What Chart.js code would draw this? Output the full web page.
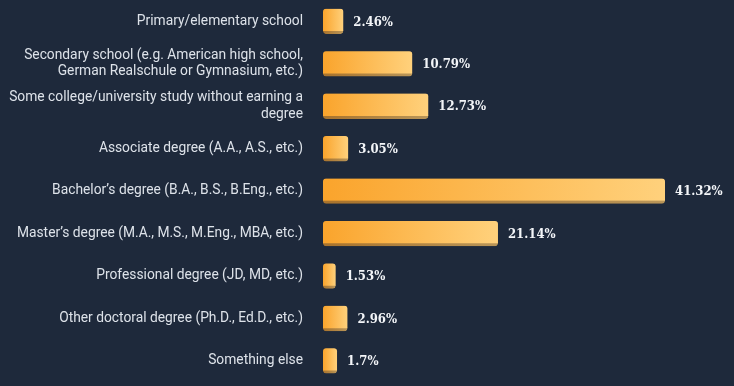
<!DOCTYPE html>
<html>
<head>
<meta charset="utf-8">
<script src="https://cdn.jsdelivr.net/npm/chart.js@4/dist/chart.umd.min.js"></script>
<style>
  html, body { margin: 0; padding: 0; background: #1e293b; }
  #wrap { width: 734px; height: 386px; }
</style>
</head>
<body>
<div id="wrap"><canvas id="eduChart"></canvas></div>
<script>
// categorias (multi-linea donde hace falta)
const categorias = [
  "Primary/elementary school",
  ["Secondary school (e.g. American high school,", "German Realschule or Gymnasium, etc.)"],
  ["Some college/university study without earning a", "degree"],
  "Associate degree (A.A., A.S., etc.)",
  "Bachelor\u2019s degree (B.A., B.S., B.Eng., etc.)",
  "Master\u2019s degree (M.A., M.S., M.Eng., MBA, etc.)",
  "Professional degree (JD, MD, etc.)",
  "Other doctoral degree (Ph.D., Ed.D., etc.)",
  "Something else"
];
const porcentajes = [2.46, 10.79, 12.73, 3.05, 41.32, 21.14, 1.53, 2.96, 1.7];

// gradiente por barra, de naranja a amarillo claro
function makeGradient(context, c0, c1, fallback) {
  const chart = context.chart;
  const x = chart.scales.x;
  if (!chart.chartArea || !x) return fallback;
  const v = context.parsed ? context.parsed.x : porcentajes[context.dataIndex];
  const x0 = x.getPixelForValue(0);
  const x1 = Math.max(x.getPixelForValue(v), x0 + 1);
  const g = chart.ctx.createLinearGradient(x0, 0, x1, 0);
  g.addColorStop(0, c0);
  g.addColorStop(1, c1);
  return g;
}

// etiquetas de valor al final de cada barra
const valueLabels = {
  id: "valueLabels",
  afterDatasetsDraw(chart) {
    const ctx = chart.ctx;
    const meta = chart.getDatasetMeta(0);
    ctx.save();
    ctx.font = "bold 13px 'DejaVu Serif Condensed', 'DejaVu Serif', serif";
    ctx.fillStyle = "#f3f5f8";
    ctx.textAlign = "left";
    ctx.textBaseline = "middle";
    meta.data.forEach((bar, i) => {
      ctx.fillText(porcentajes[i] + "%", bar.x + 10, bar.y + 1);
    });
    ctx.restore();
  }
};

new Chart(document.getElementById("eduChart"), {
  type: "bar",
  data: {
    labels: categorias,
    datasets: [{
      data: porcentajes,
      backgroundColor: (c) => makeGradient(c, "#faa42c", "#ffd17c", "#fbb040"),
      borderColor: (c) => makeGradient(c, "#a9732c", "#b99558", "#a8772f"),
      borderWidth: { top: 0, left: 0, right: 0, bottom: 3 },
      borderSkipped: false,
      borderRadius: 3,
      barThickness: 25
    }]
  },
  options: {
    indexAxis: "y",
    responsive: true,
    maintainAspectRatio: false,
    animation: false,
    layout: { padding: { top: 0, bottom: 4, right: 69, left: 0 } },
    plugins: {
      legend: { display: false },
      tooltip: { enabled: false }
    },
    scales: {
      x: {
        display: false,
        min: 0,
        max: 41.32
      },
      y: {
        grid: { display: false, drawTicks: false },
        border: { display: false },
        afterFit(scale) {
          scale.width = 323;
          scale.paddingTop = 0;
          scale.paddingBottom = 0;
        },
        ticks: {
          color: "#dde2e9",
          padding: 20,
          font: { family: "Roboto, 'Noto Sans', sans-serif", size: 13.8 }
        }
      }
    }
  },
  plugins: [valueLabels]
});
</script>
</body>
</html>
